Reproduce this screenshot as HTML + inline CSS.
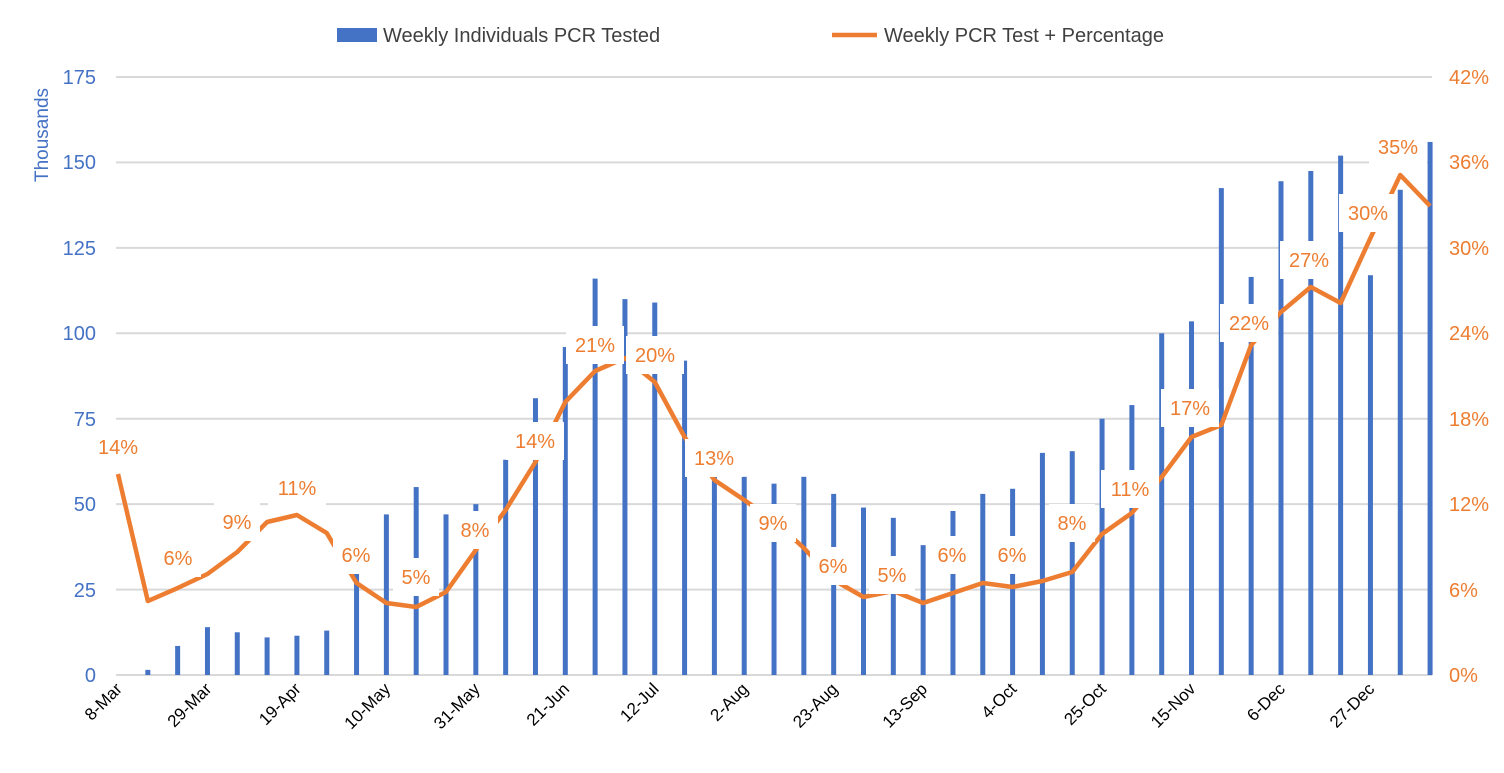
<!DOCTYPE html>
<html><head><meta charset="utf-8"><style>
body{margin:0;background:#fff}
svg{display:block;font-family:"Liberation Sans",Arial,sans-serif}
</style></head><body>
<svg id="c" width="1504" height="773" xmlns="http://www.w3.org/2000/svg">
<g stroke="#d9d9d9" stroke-width="2">
<line x1="116" x2="1432" y1="675" y2="675"/>
<line x1="116" x2="1432" y1="589.6" y2="589.6"/>
<line x1="116" x2="1432" y1="504.1" y2="504.1"/>
<line x1="116" x2="1432" y1="418.7" y2="418.7"/>
<line x1="116" x2="1432" y1="333.3" y2="333.3"/>
<line x1="116" x2="1432" y1="247.9" y2="247.9"/>
<line x1="116" x2="1432" y1="162.4" y2="162.4"/>
<line x1="116" x2="1432" y1="77" y2="77"/>
</g>
<g fill="#4472C4" font-size="20" text-anchor="end">
<text x="96" y="682">0</text><text x="96" y="597">25</text><text x="96" y="511">50</text>
<text x="96" y="426">75</text><text x="96" y="340">100</text><text x="96" y="255">125</text>
<text x="96" y="169">150</text><text x="96" y="84">175</text>
<text transform="translate(48,135) rotate(-90)" text-anchor="middle" font-size="19">Thousands</text>
</g>
<g fill="#ED7D31" font-size="20" text-anchor="start">
<text x="1449" y="682">0%</text><text x="1449" y="597">6%</text><text x="1449" y="511">12%</text>
<text x="1449" y="426">18%</text><text x="1449" y="340">24%</text><text x="1449" y="255">30%</text>
<text x="1449" y="169">36%</text><text x="1449" y="84">42%</text>
</g>
<g id="bars" fill="#4472C4"></g>
<polyline id="ln" fill="none" stroke="#ED7D31" stroke-width="4.5" stroke-linejoin="round"/>
<g id="lbl" font-size="20" fill="#ED7D31" text-anchor="middle"></g>
<g id="xl" font-size="17" fill="#000"></g>
<rect x="337" y="28" width="40" height="14" fill="#4472C4"/>
<text x="383" y="42" font-size="20" fill="#404040">Weekly Individuals PCR Tested</text>
<line x1="832" x2="877" y1="35" y2="35" stroke="#ED7D31" stroke-width="4.5"/>
<text x="884" y="42" font-size="20" fill="#404040">Weekly PCR Test + Percentage</text>
</svg>
<script>
const NS="http://www.w3.org/2000/svg";
const X=i=>118+29.82*i;
const bars=[0,1.5,8.5,14,12.5,11,11.5,13,30,47,55,47,50,63,81,96,116,110,109,92,59,58,56,58,53,49,46,38,48,53,54.5,65,65.5,75,79,100,103.5,142.5,116.5,144.5,147.5,152,117,142,156];
const ly=[474,601,588,574,552,522,515,533,583,603,607,592,550,510,462,402,371,358,382,437,480,500,521,548,580,597,591,603,593,583,587,581,572,555,534,513,477,437,425,345,312,287,303,238,175,206];
ly.splice(33,1);
const bg=document.getElementById('bars');
bars.forEach((v,i)=>{if(!v)return;const r=document.createElementNS(NS,'rect');const h=v*3.417;
r.setAttribute('x',X(i)-2.5);r.setAttribute('y',675-h);r.setAttribute('width',5);r.setAttribute('height',h);bg.appendChild(r);});
document.getElementById('ln').setAttribute('points',bars.map((v,i)=>X(i)+','+ly[i]).join(' '));
const labs=[[118,447,'14%'],[178,558,'6%'],[237,522,'9%'],[297,488,'11%'],[356,555,'6%'],[416,577,'5%'],[475,530,'8%'],[535,441,'14%'],[595,345,'21%'],[655,355,'20%'],[714,458,'13%'],[773,523,'9%'],[833,566,'6%'],[892,575,'5%'],[952,555,'6%'],[1012,555,'6%'],[1072,523,'8%'],[1130,489,'11%'],[1190,408,'17%'],[1249,323,'22%'],[1309,260,'27%'],[1368,213,'30%'],[1398,147,'35%']];
const lg=document.getElementById('lbl');
labs.forEach(([x,y,t])=>{const w=t.length>2?58:46;
const r=document.createElementNS(NS,'rect');r.setAttribute('x',x-w/2);r.setAttribute('y',y-19);r.setAttribute('width',w);r.setAttribute('height',38);r.setAttribute('fill','#fff');lg.appendChild(r);
const tx=document.createElementNS(NS,'text');tx.setAttribute('x',x);tx.setAttribute('y',y+7);tx.textContent=t;lg.appendChild(tx);});
const xs=['8-Mar','29-Mar','19-Apr','10-May','31-May','21-Jun','12-Jul','2-Aug','23-Aug','13-Sep','4-Oct','25-Oct','15-Nov','6-Dec','27-Dec'];
const xg=document.getElementById('xl');
xs.forEach((t,k)=>{const x=X(k*3)+5,y=690;const tx=document.createElementNS(NS,'text');
tx.setAttribute('transform',`translate(${x},${y}) rotate(-45)`);tx.setAttribute('text-anchor','end');tx.textContent=t;xg.appendChild(tx);});
</script>
</body></html>
